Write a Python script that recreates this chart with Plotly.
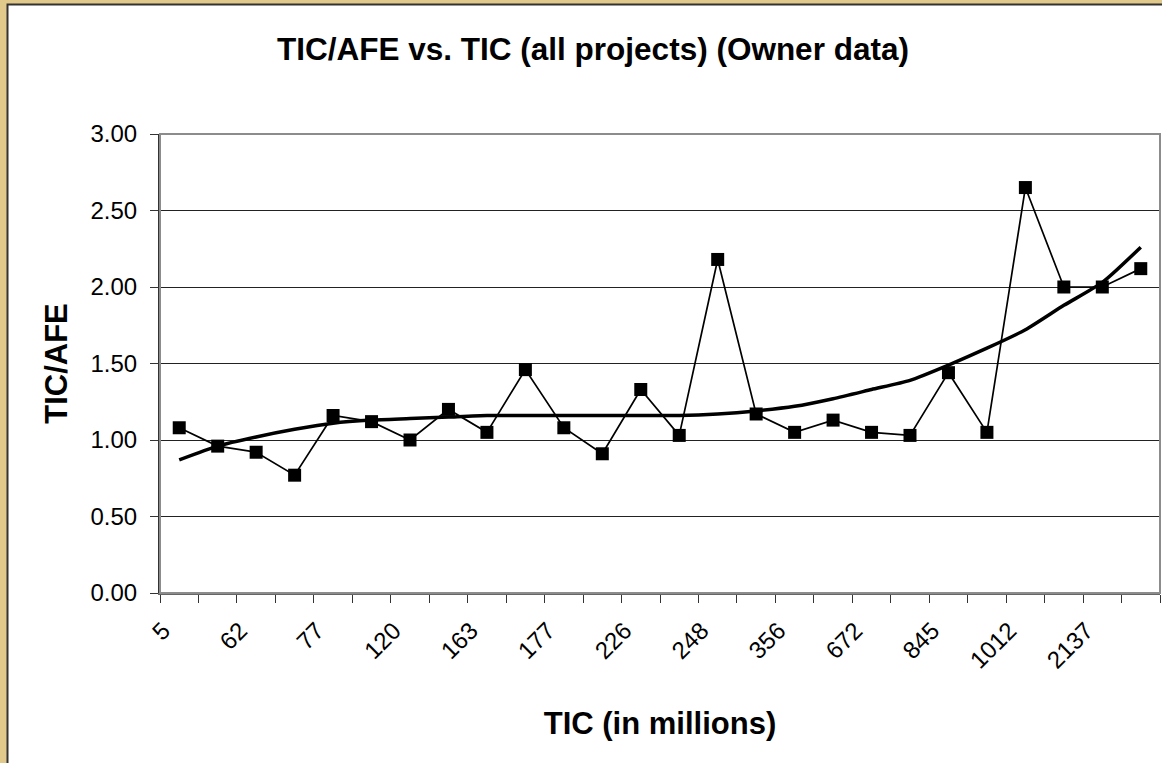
import plotly.graph_objects as go

# project index along the category axis (26 projects, sorted by TIC)
project_no = list(range(1, 27))

# only every other category label is printed on the chart
tic_labels = ["5", "62", "77", "120", "163", "177", "226", "248", "356",
              "672", "845", "1012", "2137"]

# TIC/AFE ratio for each project
tic_afe = [1.08, 0.96, 0.92, 0.77, 1.16, 1.12, 1.00, 1.20, 1.05, 1.46,
           1.08, 0.91, 1.33, 1.03, 2.18, 1.17, 1.05, 1.13, 1.05, 1.03,
           1.44, 1.05, 2.65, 2.00, 2.00, 2.12]

# trend line (at each category)
trend = [0.87, 0.96, 1.02, 1.07, 1.11, 1.13, 1.14, 1.15, 1.16, 1.16,
         1.16, 1.16, 1.16, 1.16, 1.17, 1.19, 1.22, 1.27, 1.33, 1.39,
         1.49, 1.60, 1.72, 1.88, 2.03, 2.26]

y_ticks = [0, 0.5, 1.0, 1.5, 2.0, 2.5, 3.0]

W, H = 1162, 763
L, R, T, B = 160, 2, 134, 170
pw, ph = W - L - R, H - T - B


def px_x(p):  # pixel -> paper x
    return (p - L) / pw


def px_y(p):  # pixel -> paper y
    return (H - B - p) / ph


FONT = "Arial, Liberation Sans, sans-serif"

fig = go.Figure()

fig.add_trace(go.Scatter(
    x=project_no, y=tic_afe,
    mode="lines+markers",
    line=dict(color="#000000", width=1.7),
    marker=dict(symbol="square", size=13, color="#000000"),
    name="TIC/AFE",
))

fig.add_trace(go.Scatter(
    x=project_no, y=trend,
    mode="lines",
    line=dict(color="#000000", width=3.5, shape="spline", smoothing=0.6),
    name="Trend",
))

fig.update_xaxes(
    range=[0.5, 26.5],
    tickmode="array",
    tickvals=project_no[::2],
    ticktext=tic_labels,
    tickangle=-45,
    ticks="",
    ticklabelstandoff=12,
    ticklabelshift=-16,
    tickfont=dict(family=FONT, size=24, color="#000000"),
    minor=dict(tickmode="linear", tick0=0.5, dtick=1, ticks="outside",
               ticklen=8, tickwidth=1, tickcolor="#333333", showgrid=False),
    showgrid=False,
    zeroline=False,
    showline=True, linecolor="#666666", linewidth=2,
    title=dict(text="<b>TIC (in millions)</b>", standoff=40,
               font=dict(family=FONT, size=31, color="#000000")),
)

fig.update_yaxes(
    range=[0, 3],
    tickvals=y_ticks,
    tickformat=".2f",
    ticks="outside", ticklen=8, tickwidth=1, tickcolor="#333333",
    ticklabelstandoff=8,
    tickfont=dict(family=FONT, size=24, color="#000000"),
    showgrid=True, gridcolor="#222222", gridwidth=1,
    zeroline=False,
    showline=True, linecolor="#333333", linewidth=2,
    title=dict(text="<b>TIC/AFE</b>", standoff=14,
               font=dict(family=FONT, size=31, color="#000000")),
)

fig.update_layout(
    width=W, height=H,
    margin=dict(l=L, r=R, t=T, b=B, autoexpand=False),
    paper_bgcolor="#E0C98A",
    plot_bgcolor="#FFFFFF",
    showlegend=False,
    title=dict(text="<b>TIC/AFE vs. TIC (all projects) (Owner data)</b>",
               x=593 / W, xref="container", xanchor="center",
               y=1 - 49 / H, yref="container", yanchor="middle",
               font=dict(family=FONT, size=31.5, color="#000000")),
    shapes=[
        # white chart area inside the tan frame
        dict(type="rect", xref="paper", yref="paper", layer="below",
             x0=px_x(7.5), x1=px_x(W + 10), y0=px_y(H + 10), y1=px_y(4.5),
             fillcolor="#FFFFFF", line=dict(color="#333333", width=2)),
        # grey plot-area border (top and right)
        dict(type="rect", xref="paper", yref="paper", layer="above",
             x0=0, x1=1, y0=0, y1=1,
             fillcolor="rgba(0,0,0,0)", line=dict(color="#8C8C8C", width=2)),
    ],
)

# drop the default page margin so the figure sits at the window origin
fig.write_html("out.html",
               config={"displayModeBar": False},
               post_script="document.body.style.margin='0';"
                           "document.body.style.overflow='hidden';")
